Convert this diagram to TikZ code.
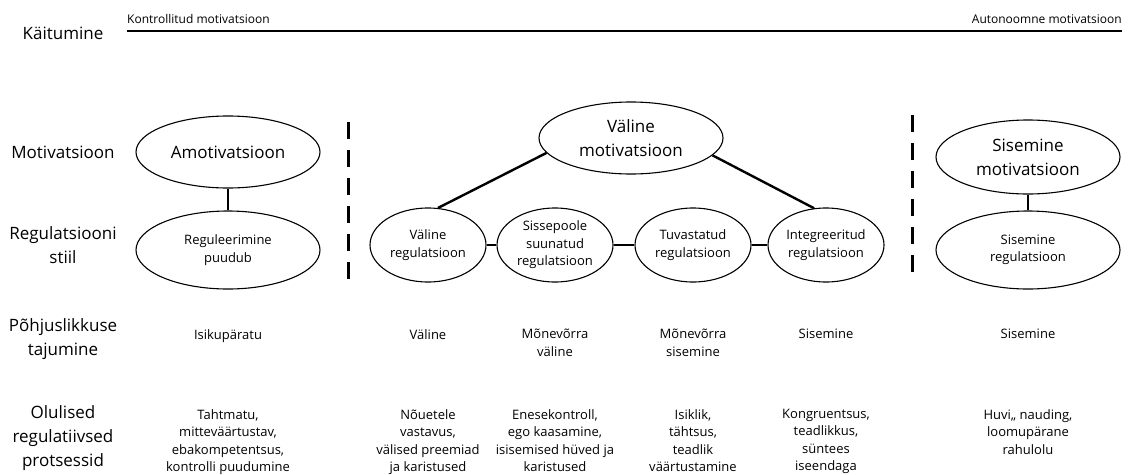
\documentclass[tikz,border=0pt]{standalone}
\usepackage{fontspec}
\setmainfont{Open Sans}
\usetikzlibrary{shapes.geometric}
\newcommand{\bigtext}{\fontsize{17}{24}\selectfont}
\newcommand{\smalltext}{\fontsize{13}{17.5}\selectfont}
\tikzset{
	oval/.style={draw, ellipse, line width=1.1pt, inner sep=0pt, align=center},
	bigoval/.style={oval, minimum width=184pt, minimum height=72pt},
	smalloval/.style={oval, minimum width=116pt, minimum height=74pt, font=\smalltext},
	rowlabel/.style={align=center, inner sep=0pt, font=\bigtext},
	celltext/.style={align=center, inner sep=0pt, anchor=north, font=\smalltext},
	link/.style={line width=2.4pt},
	divider/.style={line width=3pt, dash pattern=on 17pt off 11pt}
}
\begin{document}
\begin{tikzpicture}[x=1pt, y=-1pt]
\useasboundingbox (0 ,0) rectangle (1129 ,474);

\node [rowlabel] (kaitumine) at (63 ,33) {Käitumine};
\node [rowlabel] (motlabel) at (63 ,152) {Motivatsioon};
\node [rowlabel] (reglabel) at (63 ,245) {Regulatsiooni\\stiil};
\node [rowlabel] (pohjlabel) at (63 ,339) {Põhjuslikkuse\\tajumine};
\node [rowlabel] (protlabel) at (63 ,438) {Olulised\\regulatiivsed\\protsessid};

\coordinate (linestart) at (127 ,31);
\coordinate (lineend) at (1122 ,31);
\draw [line width=2pt] (linestart) -- (lineend);
\node [anchor=base west, inner sep=0pt, font=\fontsize{12}{14}\selectfont] (kontroll) at (127 ,23) {Kontrollitud motivatsioon};
\node [anchor=base east, inner sep=0pt, font=\fontsize{12}{14}\selectfont] (autonoom) at (1122 ,23) {Autonoomne motivatsioon};

\node [bigoval, font=\bigtext] (amot) at (228 ,152) {Amotivatsioon};
\node [bigoval, font=\smalltext, minimum height=78pt] (noreg) at (228 ,250) {Reguleerimine\\puudub};

\node [bigoval, minimum width=184pt, font=\bigtext] (valmot) at (631 ,138) {Väline\\motivatsioon};
\node [smalloval] (valreg) at (428 ,245) {Väline\\regulatsioon};
\node [smalloval] (sissreg) at (555 ,245) {Sissepoole\\suunatud\\regulatsioon};
\node [smalloval] (tuvreg) at (693 ,245) {Tuvastatud\\regulatsioon};
\node [smalloval] (intreg) at (826 ,245) {Integreeritud\\regulatsioon};

\node [bigoval, font=\bigtext, minimum height=74pt] (sismot) at (1028 ,157) {Sisemine\\motivatsioon};
\node [bigoval, font=\smalltext, minimum height=78pt] (sisreg) at (1028 ,250) {Sisemine\\regulatsioon};

\draw [link] (amot) -- (noreg);
\draw [link] (valmot.190) -- (valreg.75);
\draw [link] (valmot.-12) -- (intreg.108);
\draw [link] (valreg) -- (sissreg);
\draw [link] (sissreg) -- (tuvreg);
\draw [link] (tuvreg) -- (intreg);
\draw [link] (sismot) -- (sisreg);

\coordinate (dashtop1) at (348 ,122);
\coordinate (dashbot1) at (348 ,288);
\coordinate (dashtop2) at (912 ,115);
\coordinate (dashbot2) at (912 ,280);
\draw [divider] (dashtop1) -- (dashbot1);
\draw [divider] (dashtop2) -- (dashbot2);

\node [celltext] (pohj1) at (228 ,329) {Isikupäratu};
\node [celltext] (pohj2) at (428 ,329) {Väline};
\node [celltext] (pohj3) at (555 ,329) {Mõnevõrra\\väline};
\node [celltext] (pohj4) at (693 ,329) {Mõnevõrra\\sisemine};
\node [celltext] (pohj5) at (826 ,329) {Sisemine};
\node [celltext] (pohj6) at (1028 ,329) {Sisemine};

\node [celltext] (prot1) at (228 ,409) {Tahtmatu,\\mitteväärtustav,\\ebakompetentsus,\\kontrolli puudumine};
\node [celltext] (prot2) at (428 ,409) {Nõuetele\\vastavus,\\välised preemiad\\ja karistused};
\node [celltext] (prot3) at (555 ,409) {Enesekontroll,\\ego kaasamine,\\isisemised hüved ja\\karistused};
\node [celltext] (prot4) at (693 ,409) {Isiklik,\\tähtsus,\\teadlik\\väärtustamine};
\node [celltext] (prot5) at (826 ,409) {Kongruentsus,\\teadlikkus,\\süntees\\iseendaga};
\node [celltext] (prot6) at (1028 ,409) {Huvi,, nauding,\\loomupärane\\rahulolu};
\end{tikzpicture}
\end{document}
